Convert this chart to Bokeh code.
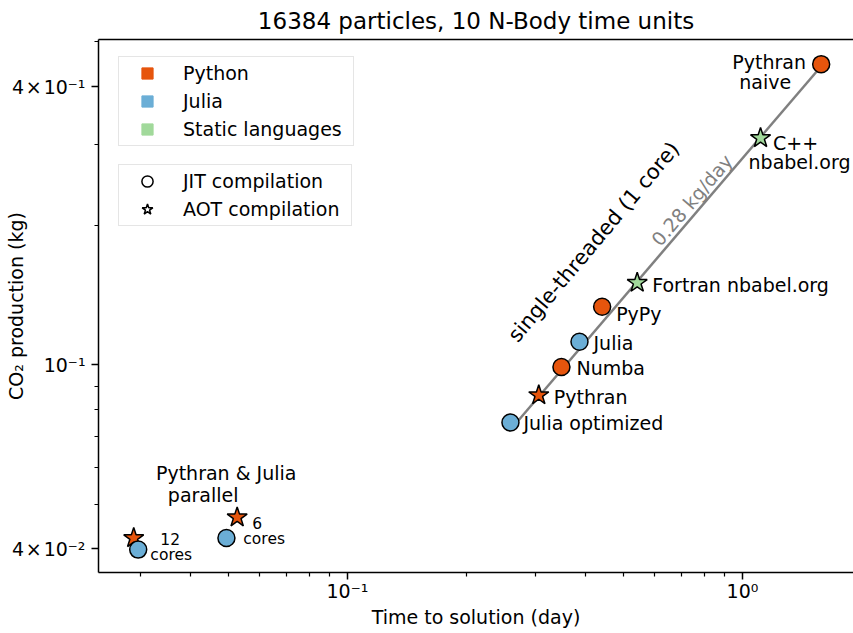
import math
from bokeh.plotting import figure
from bokeh.models import (ColumnDataSource, FixedTicker, CustomJSTickFormatter,
                          Legend, LegendItem, LinearAxis, Range1d)
from bokeh.core.properties import value
from bokeh.embed import file_html
from bokeh.resources import INLINE

# ---------------- data ----------------
title_text = "16384 particles, 10 N-Body time units"
x_label = "Time to solution (day)"
y_label = "CO\u2082 production (kg)"

names = ["Pythran naive", "C++ nbabel.org", "Fortran nbabel.org", "PyPy", "Julia",
         "Numba", "Pythran", "Julia optimized", "Pythran 12 cores", "Julia 12 cores",
         "Pythran 6 cores", "Julia 6 cores"]
time_day = [1.582, 1.111, 0.5414, 0.4413, 0.3867, 0.3481, 0.3050, 0.2586,
            0.02877, 0.02953, 0.05258, 0.04939]
co2_kg = [0.4475, 0.3097, 0.1506, 0.1336, 0.1123, 0.0990, 0.0860, 0.0751,
          0.04222, 0.03986, 0.04680, 0.04222]
language = ["Python", "Static languages", "Static languages", "Python", "Julia",
            "Python", "Python", "Julia", "Python", "Julia", "Python", "Julia"]
compilation = ["JIT", "AOT", "AOT", "JIT", "JIT", "JIT", "AOT", "JIT",
               "AOT", "JIT", "AOT", "JIT"]
cores = [1, 1, 1, 1, 1, 1, 1, 1, 12, 12, 6, 6]
rate_kg_per_day = 0.28

languages = ["Python", "Julia", "Static languages"]
language_colors = ["#e6550d", "#6baed6", "#a1d99b"]
compilation_kinds = ["JIT", "AOT"]
compilation_labels = ["JIT compilation", "AOT compilation"]

x_major_ticks = [0.1, 1.0]
x_major_labels = ["10\u207b\u00b9", "10\u2070"]
x_minor_ticks = [0.03, 0.04, 0.05, 0.06, 0.07, 0.08, 0.09,
                 0.2, 0.3, 0.4, 0.5, 0.6, 0.7, 0.8, 0.9]
y_major_ticks = [0.04, 0.1, 0.4]
y_major_labels = ["4\u200a\u00d7\u200a10\u207b\u00b2", "10\u207b\u00b9",
                  "4\u200a\u00d7\u200a10\u207b\u00b9"]
y_minor_ticks = [0.05, 0.06, 0.07, 0.08, 0.09, 0.2, 0.3, 0.5]

# ---------------- layout / style ----------------
FONT = "DejaVu Sans"
BIG = "19px"
SMALL = "15.5px"
color_of = dict(zip(languages, language_colors))
NAN = float("nan")

# text annotations: (point name, text, dx, dy, align, size)
annotations = [
    ("Pythran naive", "Pythran", -52, -2, "center", BIG),
    ("Pythran naive", "naive", -56, 18, "center", BIG),
    ("C++ nbabel.org", "C++", 35, 5, "center", BIG),
    ("C++ nbabel.org", "nbabel.org", 39, 24, "center", BIG),
    ("Fortran nbabel.org", "Fortran nbabel.org", 15, 2, "left", BIG),
    ("PyPy", "PyPy", 14, 7, "left", BIG),
    ("Julia", "Julia", 14, 1, "left", BIG),
    ("Numba", "Numba", 15, 1, "left", BIG),
    ("Pythran", "Pythran", 15, 2, "left", BIG),
    ("Julia optimized", "Julia optimized", 13, 1, "left", BIG),
    ("Pythran 6 cores", "Pythran & Julia", -11, -44, "center", BIG),
    ("Pythran 6 cores", "parallel", -34, -22, "center", BIG),
    ("Julia 12 cores", "12", 32, -11, "center", SMALL),
    ("Julia 12 cores", "cores", 33, 5, "center", SMALL),
    ("Pythran 6 cores", "6", 20, 6, "center", SMALL),
    ("Pythran 6 cores", "cores", 27, 22, "center", SMALL),
]

p = figure(width=853, height=633, x_axis_type="log", y_axis_type="log",
           x_range=Range1d(0.02343, 1.910), y_range=Range1d(0.03556, 0.5060),
           output_backend="svg", toolbar_location=None,
           min_border_left=98, min_border_right=0, min_border_top=38,
           min_border_bottom=61)
p.outline_line_color = None
p.grid.visible = False
p.background_fill_color = "white"
p.border_fill_color = "white"

p.title.text = title_text
p.title.align = "center"
p.title.text_font = FONT
p.title.text_font_size = "23px"
p.title.text_font_style = "normal"
p.title.text_color = "black"
p.title.standoff = 11

def style_axis(ax, ticks, labels, minor):
    ax.ticker = FixedTicker(ticks=ticks, minor_ticks=minor)
    ax.formatter = CustomJSTickFormatter(args=dict(vals=ticks, labs=labels), code="""
        for (let i = 0; i < vals.length; i++) {
            if (Math.abs(tick / vals[i] - 1) < 1e-6) { return labs[i]; }
        }
        return "";
    """)
    ax.axis_line_color = "black"
    ax.axis_line_width = 1.5
    ax.major_tick_line_width = 1.5
    ax.minor_tick_line_width = 1.2
    ax.major_tick_out = 7
    ax.major_tick_in = 0
    ax.minor_tick_out = 4
    ax.minor_tick_in = 0
    ax.major_label_text_font = FONT
    ax.major_label_text_font_size = BIG
    ax.major_label_text_color = "black"
    ax.axis_label_text_font = FONT
    ax.axis_label_text_font_size = BIG
    ax.axis_label_text_font_style = "normal"
    ax.axis_label_text_color = "black"

xa = p.xaxis[0]
style_axis(xa, x_major_ticks, x_major_labels, x_minor_ticks)
xa.axis_label = x_label
xa.major_label_standoff = 0
xa.axis_label_standoff = 1

ya = p.yaxis[0]
style_axis(ya, y_major_ticks, y_major_labels, y_minor_ticks)
ya.axis_label = y_label
ya.major_label_standoff = 6
ya.axis_label_standoff = -18
ya.major_label_orientation = "horizontal"

top = LinearAxis(ticker=FixedTicker(ticks=[]), major_tick_out=0, major_tick_in=0,
                 minor_tick_out=0, minor_tick_in=0, major_label_standoff=0,
                 major_label_text_font_size="0px", axis_line_color="black",
                 axis_line_width=1.5)
p.add_layout(top, "above")

# single-threaded trend line
st_times = [t for t, c in zip(time_day, cores) if c == 1]
line_x = [min(st_times), max(st_times)]
line_y = [rate_kg_per_day * t for t in line_x]
p.line(line_x, line_y, line_color="#808080", line_width=2.5)

# points: stars first, then circles
for kind, marker, size in (("AOT", "star", 21), ("JIT", "circle", 17)):
    idx = [i for i, c in enumerate(compilation) if c == kind]
    src = ColumnDataSource(dict(
        x=[time_day[i] for i in idx], y=[co2_kg[i] for i in idx],
        color=[color_of[language[i]] for i in idx]))
    p.scatter("x", "y", source=src, marker=marker, size=size, fill_color="color",
              line_color="black", line_width=1.5)

# text labels
groups = {}
for name, txt, dx, dy, align, size in annotations:
    i = names.index(name)
    g = groups.setdefault((align, size), dict(x=[], y=[], text=[], dx=[], dy=[]))
    g["x"].append(time_day[i]); g["y"].append(co2_kg[i]); g["text"].append(txt)
    g["dx"].append(dx); g["dy"].append(dy)
for (align, size), g in groups.items():
    p.text("x", "y", text="text", x_offset="dx", y_offset="dy",
           source=ColumnDataSource(g), text_font=value(FONT),
           text_font_size=value(size), text_align=align, text_baseline="middle",
           text_color="black")

# rotated annotations along the trend line
ax_ = math.sqrt(line_x[0] * line_x[1])
ay_ = rate_kg_per_day * ax_
p.text(x=[ax_], y=[ay_], text=[f"{rate_kg_per_day:.2f} kg/day"], x_offset=26, y_offset=-48,
       angle=math.radians(49.5), text_font=value(FONT), text_font_size=value(BIG),
       text_align="center", text_baseline="middle", text_color="#808080")
p.text(x=[ax_], y=[ay_], text=["single-threaded (1 core)"], x_offset=-72, y_offset=-6,
       angle=math.radians(50), text_font=value(FONT), text_font_size=value("21px"),
       text_align="center", text_baseline="middle", text_color="black")

# legends (key glyphs only, no visible data)
lang_items = []
for lang, col in zip(languages, language_colors):
    r = p.scatter(x=[NAN], y=[NAN], marker="square", size=14, fill_color=col,
                  line_color=col)
    lang_items.append(LegendItem(label=lang, renderers=[r]))
comp_items = []
for kind, lab in zip(compilation_kinds, compilation_labels):
    mk = "circle" if kind == "JIT" else "star"
    r = p.scatter(x=[NAN], y=[NAN], marker=mk, size=14, fill_color="white",
                  line_color="black", line_width=1.5)
    comp_items.append(LegendItem(label=lab, renderers=[r]))

def make_legend(items, loc, lw):
    return Legend(items=items, location=loc, padding=2, spacing=0,
                  glyph_width=52, glyph_height=28, label_standoff=10, label_width=lw,
                  label_text_font=FONT, label_text_font_size=BIG,
                  label_text_baseline="middle", label_text_color="black",
                  border_line_color="#cccccc", border_line_width=1.5,
                  background_fill_color="white", background_fill_alpha=0.8)

p.add_layout(make_legend(lang_items, (20, 426), 168))
p.add_layout(make_legend(comp_items, (20, 346), 166))

open("out.html", "w").write(file_html(p, INLINE))
